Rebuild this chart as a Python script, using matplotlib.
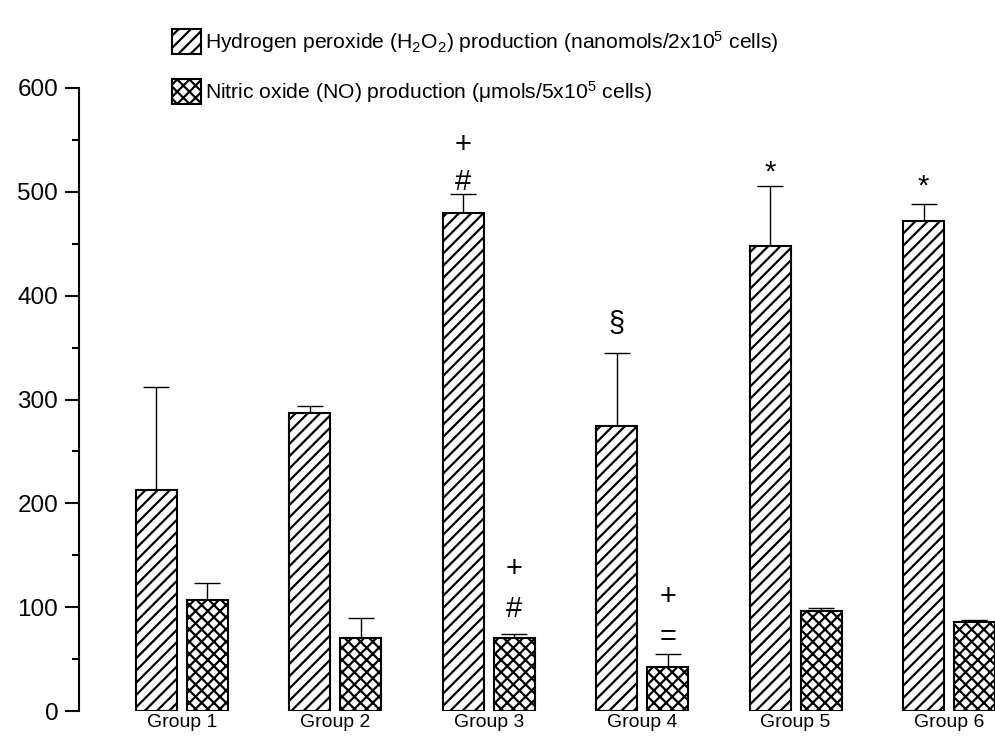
import matplotlib
matplotlib.use("Agg")
import matplotlib.pyplot as plt
from matplotlib.patches import Rectangle
from matplotlib.ticker import MultipleLocator
import numpy as np

# hatch spacing in Agg scales with dpi, 110 dpi + '///' gives ~12 px like the original
DPI = 110
K = 100 / DPI  # sizes below are given as if at 100 dpi


def pt(v):
    return v * K


plt.rcParams['font.family'] = ['Liberation Sans', 'DejaVu Sans']
plt.rcParams['mathtext.fontset'] = 'custom'
plt.rcParams['mathtext.rm'] = 'Liberation Sans'
plt.rcParams['mathtext.it'] = 'Liberation Sans:italic'
plt.rcParams['hatch.linewidth'] = pt(1.6)

groups = ["Group 1", "Group 2", "Group 3", "Group 4", "Group 5", "Group 6"]
h2o2 = [213, 287, 480, 274, 448, 472]
h2o2_err = [99, 7, 18, 71, 58, 16]
no = [107, 70, 70, 42, 96, 86]
no_err = [16, 20, 4, 13, 3, 2]

# significance marks: (group index, series 0=H2O2 1=NO, symbol, y)
marks = [
    (2, 0, "#", 509), (2, 0, "+", 545),
    (2, 1, "#", 98), (2, 1, "+", 137),
    (3, 0, "§", 373),
    (3, 1, "=", 71), (3, 1, "+", 110),
    (4, 0, "*", 519),
    (5, 0, "*", 505),
]

x = np.arange(1, len(groups) + 1)
w = 0.267
off = 0.166

fig = plt.figure(figsize=(995 / DPI, 744 / DPI), dpi=DPI)
ax = fig.add_axes([79 / 995, 33 / 744, 916 / 995, 623 / 744])

ax.bar(x - off, h2o2, w, color="white", edgecolor="black", linewidth=pt(1.5), hatch="///", zorder=3)
ax.bar(x + off, no, w, color="white", edgecolor="black", linewidth=pt(1.5), hatch="xxx", zorder=3)
ax.errorbar(x - off, h2o2, yerr=[np.zeros(len(x)), h2o2_err], fmt="none", ecolor="black",
            elinewidth=pt(1), capsize=pt(9.7), capthick=pt(1), zorder=2)
ax.errorbar(x + off, no, yerr=[np.zeros(len(x)), no_err], fmt="none", ecolor="black",
            elinewidth=pt(1), capsize=pt(9.7), capthick=pt(1), zorder=2)

for g, s, sym, y in marks:
    xp = x[g] - off if s == 0 else x[g] + off
    ax.text(xp, y, sym, ha="center", va="center", fontsize=pt(21))

ax.set_xlim(0.329, 6.30)
ax.set_ylim(0, 600)
ax.set_xticks(x)
ax.set_xticklabels(groups, fontsize=pt(14))
ax.tick_params(axis="x", length=0, pad=pt(2))
ax.yaxis.set_major_locator(MultipleLocator(100))
ax.yaxis.set_minor_locator(MultipleLocator(50))
ax.tick_params(axis="y", which="major", length=pt(10), width=pt(1.5), labelsize=pt(17.5), pad=pt(5))
ax.tick_params(axis="y", which="minor", length=pt(5), width=pt(1.5))
for sp in ["top", "right", "bottom"]:
    ax.spines[sp].set_visible(False)
ax.spines["left"].set_linewidth(pt(1.5))

h1 = Rectangle((0, 0), 1, 1, facecolor="white", edgecolor="black", linewidth=pt(1.5), hatch="///")
h2 = Rectangle((0, 0), 1, 1, facecolor="white", edgecolor="black", linewidth=pt(1.5), hatch="xxx")
fig.legend([h1, h2],
           ["Hydrogen peroxide (H$_2$O$_2$) production (nanomols/2x10$^5$ cells)",
            "Nitric oxide (NO) production (μmols/5x10$^5$ cells)"],
           loc="upper left", bbox_to_anchor=(0.173, 0.961), frameon=False, fontsize=pt(15.2),
           handlelength=1.35, handleheight=1.45, handletextpad=0.2, labelspacing=1.15,
           borderpad=0, borderaxespad=0)

fig.savefig("out.png", dpi=DPI)
